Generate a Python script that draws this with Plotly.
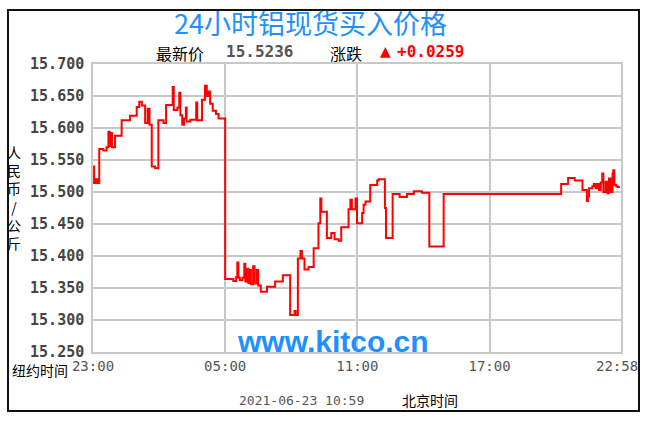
import plotly.graph_objects as go
import pandas as pd

# ---- data (New York time, price in RMB/kg) ----
times = [
    "23:00", "23:03", "23:08", "23:12", "23:17", "23:28", "23:37", "23:42", "23:45", "23:49",
    "23:52", "00:00", "00:18", "00:41", "00:59", "01:06", "01:13", "01:22", "01:29", "01:34",
    "01:40", "01:49", "01:58", "02:12", "02:19", "02:37", "02:40", "02:50", "02:55", "02:58",
    "03:03", "03:08", "03:13", "03:15", "03:25", "03:41", "03:44", "03:57", "04:05", "04:10",
    "04:15", "04:19", "04:26", "04:35", "04:42", "05:00", "05:22", "05:30", "05:33", "05:36",
    "05:40", "05:47", "05:52", "05:55", "06:00", "06:03", "06:06", "06:10", "06:16", "06:20",
    "06:26", "06:30", "06:37", "06:54", "07:16", "07:37", "07:57", "08:09", "08:12", "08:18",
    "08:25", "08:29", "08:36", "08:47", "09:01", "09:14", "09:19", "09:22", "09:37", "09:49",
    "09:58", "10:09", "10:16", "10:36", "10:41", "10:45", "10:55", "10:59", "11:13", "11:17",
    "11:22", "11:35", "11:54", "11:58", "12:15", "12:18", "12:36", "12:55", "13:15", "13:34",
    "13:56", "14:16", "14:55", "20:15", "20:34", "20:52", "21:13", "21:22", "21:25", "21:28",
    "21:31", "21:40", "21:44", "21:49", "21:54", "21:58", "22:03", "22:07", "22:10", "22:16",
    "22:21", "22:25", "22:30", "22:35", "22:37", "22:40", "22:45", "22:49", "22:55",
]
prices = [
    15.540, 15.514, 15.520, 15.514, 15.567, 15.565, 15.570, 15.594, 15.572, 15.592,
    15.570, 15.588, 15.612, 15.619, 15.633, 15.641, 15.635, 15.608, 15.630, 15.605,
    15.540, 15.537, 15.612, 15.608, 15.636, 15.664, 15.628, 15.632, 15.655, 15.620,
    15.605, 15.615, 15.632, 15.610, 15.613, 15.640, 15.612, 15.644, 15.666, 15.650,
    15.657, 15.638, 15.627, 15.622, 15.615, 15.364, 15.361, 15.367, 15.390, 15.366,
    15.362, 15.366, 15.388, 15.360, 15.380, 15.358, 15.378, 15.356, 15.384, 15.357,
    15.378, 15.354, 15.344, 15.352, 15.360, 15.370, 15.308, 15.314, 15.308, 15.396,
    15.408, 15.396, 15.379, 15.383, 15.412, 15.451, 15.490, 15.469, 15.428, 15.436,
    15.426, 15.424, 15.445, 15.473, 15.488, 15.473, 15.490, 15.451, 15.467, 15.480,
    15.485, 15.511, 15.518, 15.520, 15.475, 15.428, 15.497, 15.492, 15.497, 15.501,
    15.499, 15.415, 15.497, 15.5125, 15.522, 15.518, 15.503, 15.503, 15.486, 15.493,
    15.506, 15.509, 15.5125, 15.506, 15.5125, 15.503, 15.515, 15.529, 15.500, 15.516,
    15.498, 15.521, 15.500, 15.529, 15.534, 15.511, 15.509, 15.508, 15.508,
]
x_tick_labels = ["23:00", "05:00", "11:00", "17:00", "22:58"]
y_ticks = [15.25, 15.30, 15.35, 15.40, 15.45, 15.50, 15.55, 15.60, 15.65, 15.70]
title_text = "24小时铝现货买入价格"
latest_price = "15.5236"
change = "+0.0259"
timestamp = "2021-06-23 10:59"

def to_dt(t):
    day = "2021-06-22" if int(t[:2]) >= 23 else "2021-06-23"
    return pd.Timestamp(f"{day} {t}")

xs = [to_dt(t) for t in times]
tick_vals = [to_dt(t) for t in x_tick_labels]
# the last label sits against the right border, so it is drawn as a right-aligned note
tick_text = x_tick_labels[:-1] + [""]

fig = go.Figure()
fig.add_trace(go.Scatter(x=xs, y=prices, mode="lines", line_shape="hv",
                         line=dict(color="#ff0000", width=2), hoverinfo="skip"))

GRID = "#c8c8c8"
fig.update_layout(
    width=640, height=420,
    margin=dict(l=93, r=19, t=64, b=68),
    paper_bgcolor="white", plot_bgcolor="white",
    showlegend=False,
    xaxis=dict(range=[tick_vals[0], tick_vals[-1]], tickvals=tick_vals, ticktext=tick_text,
               showgrid=True, gridcolor=GRID, gridwidth=1.5, zeroline=False,
               showline=True, linecolor=GRID, linewidth=1.5, mirror=True,
               ticks="", tickfont=dict(family="DejaVu Sans Mono", size=14, color="#555")),
    yaxis=dict(range=[15.25, 15.70], tickvals=y_ticks, tickformat=",.3f",
               showgrid=True, gridcolor=GRID, gridwidth=1.5, zeroline=False,
               showline=True, linecolor=GRID, linewidth=1.5, mirror=True,
               ticks="", ticklabelstandoff=4,
               tickfont=dict(family="DejaVu Sans Mono", size=15, color="#444", weight="bold")),
)

# pixel -> paper coordinates (plot area spans x 93..621, y 64..352)
def px2x(x):
    return (x - 93) / 528.0

def py2y(y):
    return (352 - y) / 288.0

def note(text, x, y, size, color="#000", family="Noto Sans CJK SC", weight="normal", xanchor="center"):
    fig.add_annotation(text=text, x=px2x(x), y=py2y(y), xref="paper", yref="paper",
                       showarrow=False, xanchor=xanchor, yanchor="middle",
                       font=dict(family=family, size=size, color=color, weight=weight))

note(title_text, 310, 22, 27, color="#1e90ff")
note("最新价", 180, 53, 16)
note(latest_price, 259, 51, 16, color="#555", family="DejaVu Sans Mono", weight="bold")
note("涨跌", 346, 53, 16)
note("▲", 385, 51, 14, color="#ff0000", family="DejaVu Sans")
note(change, 430, 51, 16, color="#ff0000", family="DejaVu Sans Mono", weight="bold")
note("人<br>民<br>币<br>/<br>公<br>斤", 14, 197, 14)
note("纽约时间", 40, 370, 14)
note(x_tick_labels[-1], 640, 366, 14, color="#555", family="DejaVu Sans Mono", xanchor="right")
note("www.kitco.cn", 333, 341, 30, color="#1e90ff", family="Liberation Sans", weight="bold")
note(timestamp, 301, 400, 13, color="#555", family="DejaVu Sans Mono")
note("北京时间", 430, 400, 14)

fig.add_shape(type="rect", xref="paper", yref="paper",
              x0=px2x(8), x1=px2x(639), y0=py2y(411), y1=py2y(10),
              line=dict(color="#111", width=2), fillcolor="rgba(0,0,0,0)", layer="below")

# remove the default page margin so the figure sits at the window's top-left corner
fig.write_html("out.html", config={"displayModeBar": False},
               post_script="document.body.style.margin='0';")
